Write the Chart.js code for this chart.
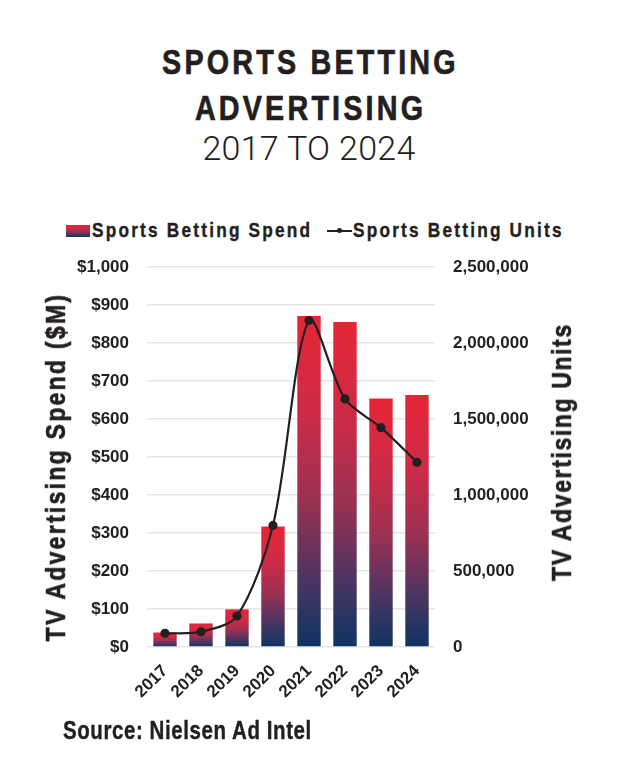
<!DOCTYPE html>
<html>
<head>
<meta charset="utf-8">
<script src="https://cdn.jsdelivr.net/npm/chart.js@4.4.1/dist/chart.umd.min.js"></script>
<style>
html, body { margin: 0; padding: 0; background: #fff; }
body {
    width: 618px; height: 784px; position: relative; overflow: hidden;
    color: #231f20;
    font-family: "Liberation Sans", Arial, sans-serif;
}
#chart { position: absolute; left: 0; top: 0; }
/* no narrow face installed, so squeeze Liberation Sans Bold */
.nar { display: inline-block; transform: scaleX(0.82); }
.t { position: absolute; left: 0; width: 618px; text-align: center; white-space: nowrap; line-height: 1; }
.h { font-weight: bold; font-size: 35px; -webkit-text-stroke: 0.7px #231f20; }
.h .nar { letter-spacing: 3.9px; padding-left: 3.9px; }
.sub { font-family: Roboto, "Liberation Sans", sans-serif; font-weight: 300; font-size: 34px; letter-spacing: 0.3px; }
.leg { position: absolute; font-weight: bold; font-size: 21px; line-height: 21px; white-space: nowrap;
       letter-spacing: 2.7px; transform: scaleX(0.82); transform-origin: 0 0; -webkit-text-stroke: 0.4px #231f20; }
.box { position: absolute; left: 66px; top: 225px; width: 24px; height: 12px;
       background: linear-gradient(#e62636, #cc2b47 30%, #9c3152 55%, #4a3462 80%, #0e3462); }
.mark { position: absolute; left: 327px; top: 230px; width: 25px; height: 1.5px; background: #231f20; }
.mark::after { content: ""; position: absolute; left: 10px; top: -2px; width: 5px; height: 5px; border-radius: 50%; background: #231f20; }
.axt { position: absolute; font-weight: bold; font-size: 28px; line-height: 28px; white-space: nowrap;
       transform: translate(-50%, -50%) rotate(-90deg) scaleX(0.82); -webkit-text-stroke: 0.7px #231f20; }
.src { position: absolute; left: 63px; top: 718px; font-weight: bold; font-size: 25px; line-height: 25px;
       letter-spacing: 0.7px; white-space: nowrap; transform: scaleX(0.82); transform-origin: 0 0; -webkit-text-stroke: 0.4px #231f20; }
</style>
</head>
<body>
<div class="t h" style="top:44px"><span class="nar">SPORTS BETTING</span></div>
<div class="t h" style="top:90px"><span class="nar">ADVERTISING</span></div>
<div class="t sub" style="top:131px">2017 TO 2024</div>

<div class="box"></div>
<div class="leg" style="left:92px;top:219px">Sports Betting Spend</div>
<div class="mark"></div>
<div class="leg" style="left:353px;top:219px">Sports Betting Units</div>

<canvas id="chart" width="618" height="784"></canvas>

<div class="axt" style="left:56px;top:467px;letter-spacing:2.8px">TV Advertising Spend ($M)</div>
<div class="axt" style="left:562px;top:452px;letter-spacing:2px">TV Advertising Units</div>
<div class="src">Source: Nielsen Ad Intel</div>

<script>
const years = ['2017', '2018', '2019', '2020', '2021', '2022', '2023', '2024'];
// TV advertising spend, $ millions
const spend = [38, 62, 99, 317, 871, 855, 654, 663];
// TV advertising units
const units = [90000, 100000, 204000, 800000, 2148000, 1632000, 1443000, 1215000];
const unitLabels = [0, 500000, 1000000, 1500000, 2000000, 2500000];

const tickFont = { family: '"Liberation Sans", Arial, sans-serif', size: 17, weight: 'bold' };

// each bar fades from red at its top to navy at the baseline
function barFill(ctx) {
    const chart = ctx.chart;
    if (!chart.chartArea || ctx.type !== 'data') return '#e62636';
    const y = chart.scales.y;
    const top = y.getPixelForValue(ctx.raw);
    const bottom = y.getPixelForValue(0);
    const g = chart.ctx.createLinearGradient(0, top, 0, bottom);
    g.addColorStop(0, '#e62636');
    g.addColorStop(0.3, '#cc2b47');
    g.addColorStop(0.55, '#9c3152');
    g.addColorStop(0.8, '#4a3462');
    g.addColorStop(1, '#0e3462');
    return g;
}

new Chart(document.getElementById('chart'), {
    data: {
        labels: years,
        datasets: [{
            type: 'line',
            label: 'Sports Betting Units',
            data: units,
            yAxisID: 'y1',
            borderColor: '#231f20',
            backgroundColor: '#231f20',
            borderWidth: 2.2,
            pointRadius: 3.5,
            tension: 0.3,
            order: 0
        }, {
            type: 'bar',
            label: 'Sports Betting Spend',
            data: spend,
            yAxisID: 'y',
            backgroundColor: barFill,
            barPercentage: 0.65,
            categoryPercentage: 1,
            order: 1
        }]
    },
    options: {
        responsive: false,
        animation: false,
        layout: { padding: { left: 77, right: 88, top: 267, bottom: 77 } },
        plugins: { legend: { display: false }, tooltip: { enabled: false } },
        scales: {
            x: {
                grid: { display: false },
                border: { display: false },
                ticks: { color: '#231f20', font: tickFont, minRotation: 45, maxRotation: 45, padding: 6 },
                afterFit: s => { s.height = 60; }
            },
            y: {
                position: 'left',
                min: 0, max: 1000,
                grid: { color: '#e4e6ea', lineWidth: 1.5, drawTicks: false },
                border: { display: false },
                ticks: { stepSize: 100, padding: 18, color: '#231f20', font: tickFont,
                         callback: v => '$' + v.toLocaleString('en-US') },
                afterFit: s => { s.width = 70; }
            },
            y1: {
                position: 'right',
                min: 0, max: 2500000,
                grid: { display: false, drawTicks: false },
                border: { display: false },
                ticks: { stepSize: 250000, padding: 18, color: '#231f20', font: tickFont,
                         callback: v => unitLabels.includes(v) ? v.toLocaleString('en-US') : '' },
                afterFit: s => { s.width = 95; }
            }
        }
    }
});
</script>
</body>
</html>
